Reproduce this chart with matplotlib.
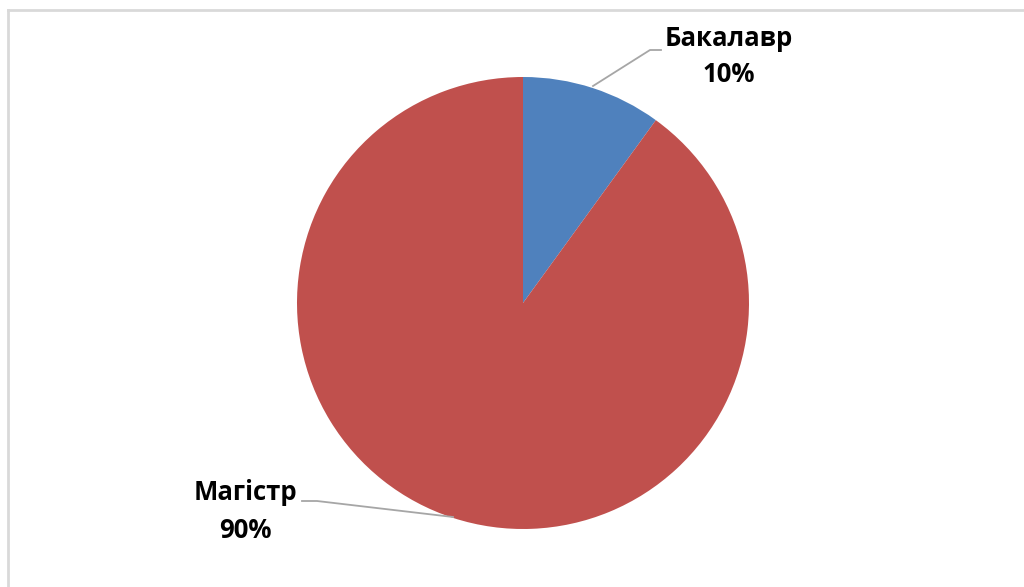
import matplotlib.pyplot as plt
from matplotlib.lines import Line2D

labels = ['Бакалавр', 'Магістр']
values = [10, 90]
colors = ['#4F81BD', '#C0504D']

W, H = 1024, 587
fig = plt.figure(figsize=(W / 100, H / 100), dpi=100)
ax = fig.add_axes([0, 0, 1, 1])

# pie centre and radius in pixel units (y measured from bottom)
cx, cy, r = 523, H - 303, 226
ax.pie(values, colors=colors, startangle=90, counterclock=False,
       center=(cx, cy), radius=r, wedgeprops=dict(linewidth=0))
ax.set_xlim(0, W)
ax.set_ylim(0, H)
ax.set_aspect('equal')
ax.axis('off')

# chart frame (top and left edges visible)
grey = '#D9D9D9'
ax.add_line(Line2D([8, W + 5], [H - 10, H - 10], color=grey, lw=2))
ax.add_line(Line2D([8, 8], [H - 10, -5], color=grey, lw=2))

# leader lines
lead = '#A6A6A6'
ax.add_line(Line2D([661, 650, 593], [H - 50, H - 50, H - 86], color=lead, lw=1.3))
ax.add_line(Line2D([302, 317, 453], [H - 501, H - 501, H - 517], color=lead, lw=1.3))

font = dict(family=['Open Sans', 'DejaVu Sans'], fontsize=18.5, fontweight='bold',
            ha='center', va='center')
pos = [(729, 38), (245, 493)]
for lab, v, (x, y) in zip(labels, values, pos):
    ax.text(x, H - y, lab, **font)
    ax.text(x, H - y - 37, f'{v}%', **font)

fig.savefig('out.png', dpi=100)
